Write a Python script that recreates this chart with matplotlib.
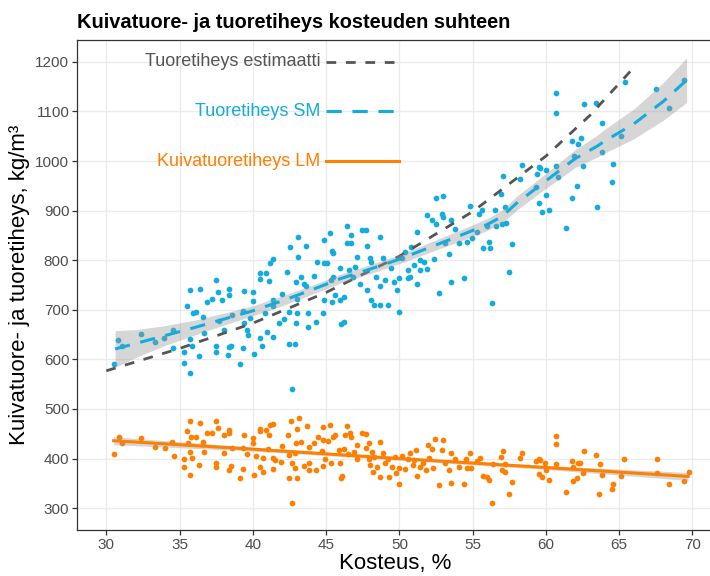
import numpy as np
import matplotlib.pyplot as plt

plt.rcParams['font.family'] = ['Liberation Sans', 'DejaVu Sans']

blue = '#12ACDD'
orange = '#FF7F00'
grey = '#555555'

# tuoretiheys (kosteus %, kg/m3)
sm_kost = [30.5, 30.8, 31.1, 32.4, 33.3, 33.96, 34.55, 34.55, 35.28, 35.3, 35.5, 35.7, 35.7, 35.7, 35.85,
           35.9, 36.1, 36.3, 36.4, 36.6, 36.7, 36.9, 37.2, 37.5, 37.5, 37.5, 37.6, 37.7, 37.9, 38.0,
           38.35, 38.35, 38.35, 38.5, 38.3, 38.6, 39.1, 39.3, 39.3, 39.4, 39.4, 39.6, 39.7, 39.8, 39.99,
           39.99, 40.06, 40.5, 40.5, 40.5, 40.6, 40.8, 40.9, 40.97, 41.1, 41.2, 41.4, 41.4, 41.4, 41.4,
           41.76, 41.99, 42.1, 42.3, 42.5, 42.56, 42.5, 42.9, 42.97, 43.06, 42.97, 42.7, 43.1, 43.0, 43.0,
           43.66, 43.3, 43.5, 43.6, 43.75, 43.75, 44.2, 44.3, 44.4, 44.8, 44.84, 44.84, 44.84, 45.07, 45.25,
           45.3, 45.4, 45.4, 45.5, 45.5, 45.6, 45.98, 45.98, 46.0, 46.2, 46.2, 46.4, 46.4, 46.55, 46.7,
           46.7, 46.84, 47.0, 47.1, 47.3, 47.45, 47.7, 47.8, 48.0, 47.8, 48.07, 48.07, 48.25, 48.4, 48.66,
           48.7, 48.7, 48.9, 49.05, 49.2, 49.4, 49.6, 49.84, 49.96, 50.0, 50.2, 50.4, 50.6, 50.6, 50.75,
           50.8, 50.98, 51.2, 51.2, 51.4, 51.4, 51.7, 51.85, 51.9, 52.2, 52.35, 52.5, 52.5, 52.7, 52.9,
           53.0, 53.0, 53.1, 53.4, 53.5, 53.5, 53.8, 54.1, 54.4, 54.6, 54.8, 54.96, 55.3, 55.4, 55.65,
           55.7, 56.0, 56.1, 56.3, 56.2, 56.5, 56.6, 57.07, 56.9, 57.2, 57.0, 57.3, 57.7, 57.5, 58.2,
           58.4, 59.3, 59.4, 59.5, 59.6, 59.5, 59.7, 59.97, 60.0, 60.2, 60.7, 60.7, 60.7, 60.8, 61.4,
           61.8, 61.8, 61.9, 62.1, 62.2, 62.4, 62.5, 62.6, 63.45, 63.5, 63.8, 63.8, 64.5, 64.6, 65.1,
           65.4, 67.5, 68.4, 69.45]
sm_tih = [590, 639, 627, 651, 636, 643, 659, 622, 614, 592, 708, 740, 641, 572, 626,
          693, 696, 606, 741, 686, 653, 716, 721, 760, 628, 614, 735, 678, 720, 659,
          741, 730, 624, 627, 609, 690, 591, 622, 698, 737, 673, 659, 649, 683, 735,
          718, 611, 774, 762, 644, 628, 693, 775, 656, 759, 795, 802, 646, 720, 708,
          673, 732, 681, 777, 631, 827, 696, 631, 757, 807, 673, 540, 846, 722, 693,
          829, 767, 753, 747, 693, 666, 768, 676, 797, 693, 841, 795, 720, 794, 854,
          760, 819, 716, 815, 767, 730, 784, 720, 671, 676, 726, 835, 868, 780, 851,
          834, 767, 787, 807, 753, 861, 861, 829, 804, 740, 720, 797, 710, 767, 847,
          710, 747, 804, 760, 710, 784, 757, 739, 764, 696, 804, 817, 780, 764, 767,
          827, 790, 857, 752, 780, 800, 797, 782, 891, 881, 802, 925, 874, 733, 893,
          929, 888, 834, 813, 881, 757, 862, 834, 764, 837, 909, 844, 857, 894, 901,
          824, 868, 837, 713, 824, 901, 868, 970, 933, 908, 874, 876, 833, 777, 963,
          991, 947, 974, 988, 985, 915, 898, 931, 982, 901, 1138, 1096, 990, 968, 864,
          1040, 925, 1010, 950, 1034, 1046, 990, 1115, 1116, 907, 1076, 1019, 957, 993, 1050,
          1160, 1145, 1107, 1163]

# kuivatuoretiheys
lm_kost = [30.5, 30.84, 31.07, 32.4, 33.35, 33.98, 34.48, 34.6, 35.3, 35.3, 35.5, 35.55, 35.7, 35.7,
           35.7, 35.85, 35.8, 36.1, 36.3, 36.4, 36.6, 36.7, 36.9, 37.2, 37.5, 37.6, 37.5, 37.5,
           38.0, 38.05, 38.35, 38.35, 38.35, 38.5, 38.6, 39.1, 39.3, 39.3, 39.4, 39.6, 40.0, 40.0,
           40.06, 40.2, 40.5, 40.5, 40.5, 40.7, 40.7, 40.9, 41.0, 41.1, 41.2, 41.4, 41.4, 41.4,
           41.5, 41.9, 42.0, 42.4, 42.5, 42.5, 42.6, 42.7, 42.7, 42.9, 42.9, 42.97, 43.0, 43.0,
           43.15, 43.3, 43.5, 43.7, 43.8, 43.8, 43.8, 44.15, 44.3, 44.45, 44.7, 44.8, 44.8, 44.8,
           44.9, 45.1, 45.25, 45.35, 45.45, 45.6, 45.9, 45.97, 46.04, 46.1, 46.2, 46.3, 46.4, 46.5,
           46.65, 46.7, 46.9, 47.1, 47.1, 47.45, 47.7, 47.7, 47.9, 47.9, 48.0, 48.1, 48.2, 48.3,
           48.5, 48.7, 48.7, 48.9, 49.0, 49.2, 49.3, 49.5, 49.7, 49.8, 49.95, 50.0, 50.2, 50.4,
           50.6, 50.75, 50.9, 50.97, 51.1, 51.2, 51.4, 51.6, 51.8, 51.95, 52.0, 52.2, 52.3, 52.4,
           52.7, 52.9, 53.0, 53.1, 53.4, 53.5, 53.5, 53.8, 54.05, 54.4, 54.55, 54.6, 54.8, 54.9,
           55.3, 55.5, 55.7, 56.0, 56.1, 56.3, 56.4, 56.9, 57.07, 57.0, 57.2, 57.2, 57.5, 57.7,
           58.2, 58.4, 59.35, 59.5, 59.6, 59.5, 59.7, 59.96, 60.03, 60.2, 60.7, 60.7, 60.7, 61.4,
           61.8, 61.85, 61.85, 62.1, 62.2, 62.35, 62.5, 62.6, 63.45, 63.6, 63.7, 63.8, 64.5, 64.6,
           65.1, 65.3, 67.6, 67.6, 68.4, 69.45, 69.75]
lm_tih = [409, 443, 432, 441, 423, 422, 434, 405, 399, 383, 456, 431, 475, 414,
          367, 402, 444, 444, 387, 471, 434, 414, 452, 452, 475, 461, 392, 384,
          447, 411, 458, 451, 376, 385, 421, 360, 421, 379, 447, 410, 441, 431,
          367, 405, 459, 455, 383, 373, 401, 458, 420, 448, 468, 470, 401, 379,
          397, 394, 426, 448, 407, 361, 475, 310, 391, 412, 382, 431, 459, 361,
          481, 434, 385, 466, 424, 392, 376, 431, 377, 443, 416, 438, 463, 385,
          399, 436, 468, 392, 443, 448, 418, 392, 360, 364, 419, 448, 465, 410,
          452, 443, 414, 427, 399, 452, 450, 421, 432, 399, 387, 414, 372, 404,
          383, 434, 362, 411, 391, 399, 362, 383, 403, 371, 381, 349, 405, 379,
          399, 411, 387, 397, 418, 365, 383, 391, 376, 428, 401, 419, 381, 439,
          347, 418, 438, 392, 377, 412, 350, 399, 383, 349, 399, 381, 411, 381,
          396, 401, 364, 362, 357, 310, 389, 403, 416, 376, 373, 389, 329, 352,
          401, 412, 396, 399, 397, 369, 362, 392, 376, 357, 446, 429, 389, 332,
          396, 384, 354, 360, 391, 392, 371, 416, 408, 328, 389, 367, 338, 349,
          365, 400, 400, 371, 348, 354, 373]

# sovitetut kayrat luettuna kuvasta
smooth_x = [30.6, 32, 34, 36, 38, 40, 42, 44, 46, 48, 50, 52, 54, 56, 57, 58, 60, 62, 63.5, 64, 66, 68, 69.6]
smooth_y = [621, 632, 648, 664, 681, 698, 718, 740, 763, 782, 802, 825, 848, 872, 888, 915, 960, 1005, 1030,
            1040, 1075, 1120, 1163]
smooth_se = [37, 28, 20, 15, 12, 10, 10, 9, 9, 9, 9, 10, 11, 12, 13, 14, 15, 18, 22, 24, 30, 38, 45]

lin_x = [30.5, 40, 50, 60, 69.7]
lin_y = [436, 419, 400, 382, 364]
lin_se = [8, 4, 3, 4, 8]

est_x = [30, 35, 40, 45, 50, 55, 60, 63, 66.2]
est_y = [577, 622, 673, 735, 808, 898, 1010, 1092, 1195]

fig = plt.figure(figsize=(7.1, 5.76), dpi=100)
ax = fig.add_axes([77 / 710, 46 / 576, 636 / 710, 490 / 576])

ax.scatter(sm_kost, sm_tih, s=17, color=blue, linewidths=0, zorder=3)
ax.scatter(lm_kost, lm_tih, s=17, color=orange, linewidths=0, zorder=3)

ax.plot(est_x, est_y, color=grey, lw=2, dashes=(3.5, 3.5), zorder=4)

sy = np.array(smooth_y)
se = np.array(smooth_se)
ax.fill_between(smooth_x, sy - se, sy + se, color='#999999', alpha=0.4, linewidth=0, zorder=4)
ax.plot(smooth_x, smooth_y, color=blue, lw=2.2, dashes=(5, 3.5), zorder=5)

ly = np.array(lin_y)
ls = np.array(lin_se)
ax.fill_between(lin_x, ly - ls, ly + ls, color='#999999', alpha=0.4, linewidth=0, zorder=4)
ax.plot(lin_x, lin_y, color=orange, lw=2.2, zorder=5)

# selitteet tekstina
ax.plot([45, 50], [1200, 1200], color=grey, lw=2, dashes=(3.5, 3.5))
ax.plot([45, 50], [1100, 1100], color=blue, lw=2.2, dashes=(5, 3.5))
ax.plot([45, 50], [1000, 1000], color=orange, lw=2.2)
ax.text(44.6, 1200, 'Tuoretiheys estimaatti', color=grey, fontsize=13, ha='right', va='center')
ax.text(44.6, 1100, 'Tuoretiheys SM', color=blue, fontsize=13, ha='right', va='center')
ax.text(44.6, 1000, 'Kuivatuoretiheys LM', color=orange, fontsize=13, ha='right', va='center')

ax.set_xlim(28.0, 71.4)
ax.set_ylim(256, 1244)
ax.set_xticks(np.arange(30, 71, 5))
ax.set_yticks(np.arange(300, 1201, 100))
ax.grid(True, color='#EBEBEB', lw=1)
ax.set_axisbelow(True)
for sp in ax.spines.values():
    sp.set_color('#333333')
    sp.set_linewidth(0.9)
ax.tick_params(colors='#333333', labelcolor='#4D4D4D', labelsize=11, length=3.5, width=0.9, pad=2)

ax.set_xlabel('Kosteus, %', fontsize=16, labelpad=1)
ax.set_ylabel('Kuivatuore- ja tuoretiheys, kg/m³', fontsize=16, labelpad=4)
fig.text(77 / 710, 1 - 28 / 576, 'Kuivatuore- ja tuoretiheys kosteuden suhteen', fontsize=14.4,
         fontweight='bold', ha='left', va='baseline')

plt.savefig('out.png')
